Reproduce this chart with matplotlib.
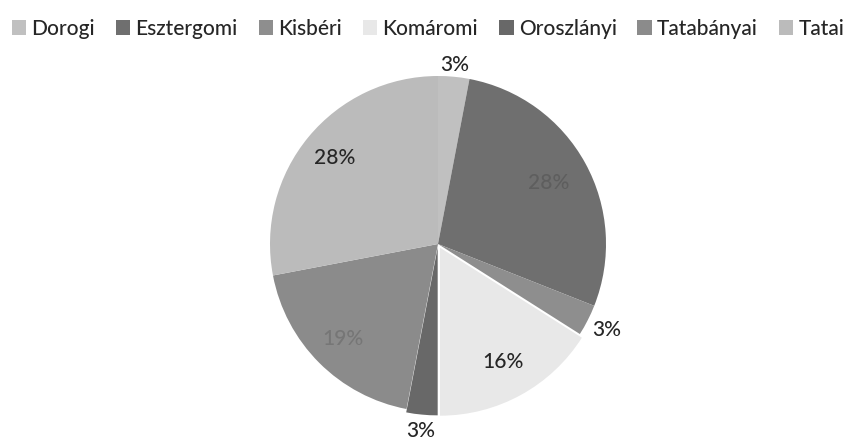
import numpy as np
import matplotlib.pyplot as plt
from matplotlib.patches import Patch

# data ---------------------------------------------------------------
labels = ["Dorogi", "Esztergomi", "Kisbéri", "Komáromi", "Oroszlányi", "Tatabányai", "Tatai"]
values = [3, 28, 3, 16, 3, 19, 28]
colors = ["#c0c0c0", "#6f6f6f", "#8e8e8e", "#e8e8e8", "#686868", "#8b8b8b", "#bbbbbb"]
label_r = [1.07, 0.75, 1.13, 0.80, 1.12, 0.80, 0.80]
label_col = ["#262626", "#5e5e5e", "#262626", "#262626", "#262626", "#767676", "#262626"]
explode = [0, 0, 0, 0.025, 0.02, 0, 0]

plt.rcParams['font.family'] = ['Lato', 'DejaVu Sans']

fig = plt.figure(figsize=(8.56, 4.43), dpi=100)
ax = fig.add_axes([270/856, 31/443, 336/856, 336/443])

wedges, _ = ax.pie(values, colors=colors, startangle=90, counterclock=False,
                   explode=explode, wedgeprops=dict(linewidth=0))
ax.set_xlim(-1, 1)
ax.set_ylim(-1, 1)

# percentage labels
for w, v, r, c in zip(wedges, values, label_r, label_col):
    ang = np.deg2rad((w.theta1 + w.theta2) / 2)
    ax.text(r * np.cos(ang), r * np.sin(ang), f"{v}%", ha="center", va="center",
            fontsize=15, color=c, fontweight="medium", clip_on=False)

handles = [Patch(facecolor=c, edgecolor="none") for c in colors]
fig.legend(handles, labels, loc="upper center", bbox_to_anchor=(0.5, 1.0), ncol=7,
           frameon=False, fontsize=15, handlelength=0.7, handleheight=0.7,
           handletextpad=0.25, columnspacing=1.0, labelcolor="#262626",
           prop=dict(weight="medium", size=15))

fig.savefig("out.png", dpi=100)
